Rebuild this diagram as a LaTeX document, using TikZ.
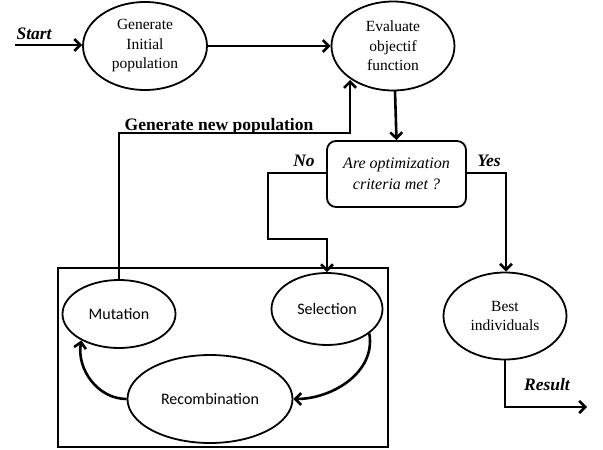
\documentclass[tikz,border=0pt]{standalone}
\usepackage{fontspec}
\setmainfont{Liberation Serif}
\newfontfamily\calib{Carlito}
\usetikzlibrary{arrows.meta,shapes.geometric}
\begin{document}
\begin{tikzpicture}[x=1pt,y=-1pt,
  ell/.style={draw,line width=1.8pt,ellipse,align=center,inner sep=0pt,font=\fontsize{15.5}{19.5}\selectfont},
  sub/.style={draw,line width=1.8pt,ellipse,inner sep=0pt,font=\calib\fontsize{16}{18}\selectfont},
  conn/.style={line width=2.6pt,-{Straight Barb[length=6pt,width=12pt,line width=2.6pt]}},
  lbl/.style={font=\bfseries\itshape\fontsize{17.5}{20}\selectfont}]
\useasboundingbox (0,0) rectangle (603,450);
\node[ell,minimum width=124pt,minimum height=88pt] (gen) at (145,46) {Generate\\Initial\\population};
\node[ell,minimum width=123pt,minimum height=89pt] (eval) at (393,46) {Evaluate\\objectif\\function};
\node[draw,line width=1.8pt,rounded corners=9pt,minimum width=139pt,minimum height=66pt,align=center,font=\itshape\fontsize{16}{21}\selectfont] (crit) at (396.5,174) {Are optimization\\criteria met ?};
\node[ell,minimum width=123pt,minimum height=87pt] (best) at (505,316) {Best\\individuals};
\node[draw,line width=1.8pt,minimum width=330pt,minimum height=179pt] (box) at (223,357.5) {};
\node[sub,minimum width=113pt,minimum height=68pt] (mut) at (119,314) {Mutation};
\node[sub,minimum width=111pt,minimum height=72pt] (sel) at (327,309) {Selection};
\node[sub,minimum width=165pt,minimum height=88pt] (rec) at (210,399) {Recombination};
% start
\coordinate (s0) at (15,45);
\node[lbl,anchor=base west] (start) at (13,39) {Start};
\draw[conn] (s0) -- (gen.west |- s0);
\draw[conn] (gen.east) -- (eval.west);
\coordinate (e0) at (395,91);
\draw[conn] (e0) -- (crit.north);
% yes
\coordinate (y1) at (506,173);
\draw[conn] (crit.east |- y1) -- (y1) -- (best.north -| y1);
\node[lbl,anchor=base] (yes) at (489,166) {Yes};
% no
\coordinate (n1) at (268,173);
\coordinate (n2) at (268,239);
\draw[conn] (crit.west |- n1) -- (n1) -- (n2) -- (n2 -| sel.north) -- (sel.north);
\node[lbl,anchor=base] (no) at (304,166) {No};
% result
\coordinate (r1) at (505,407);
\coordinate (r2) at (587,407);
\draw[conn] (best.south) -- (r1) -- (r2);
\node[lbl,anchor=base] (res) at (547,390) {Result};
% new population
\coordinate (p1) at (119,133);
\coordinate (p2) at (350,133);
\coordinate (p3) at (350,80);
\draw[conn] (mut.north) -- (p1) -- (p2) -- (p3);
\node[font=\bfseries\fontsize{17.5}{20}\selectfont,anchor=base] (gnp) at (219,130) {Generate new population};
% cycle
\draw[conn] (sel.-30) to[out=-80,in=0] (rec.east);
\draw[conn] (rec.west) to[out=180,in=-100] (mut.-145);
\end{tikzpicture}
\end{document}
